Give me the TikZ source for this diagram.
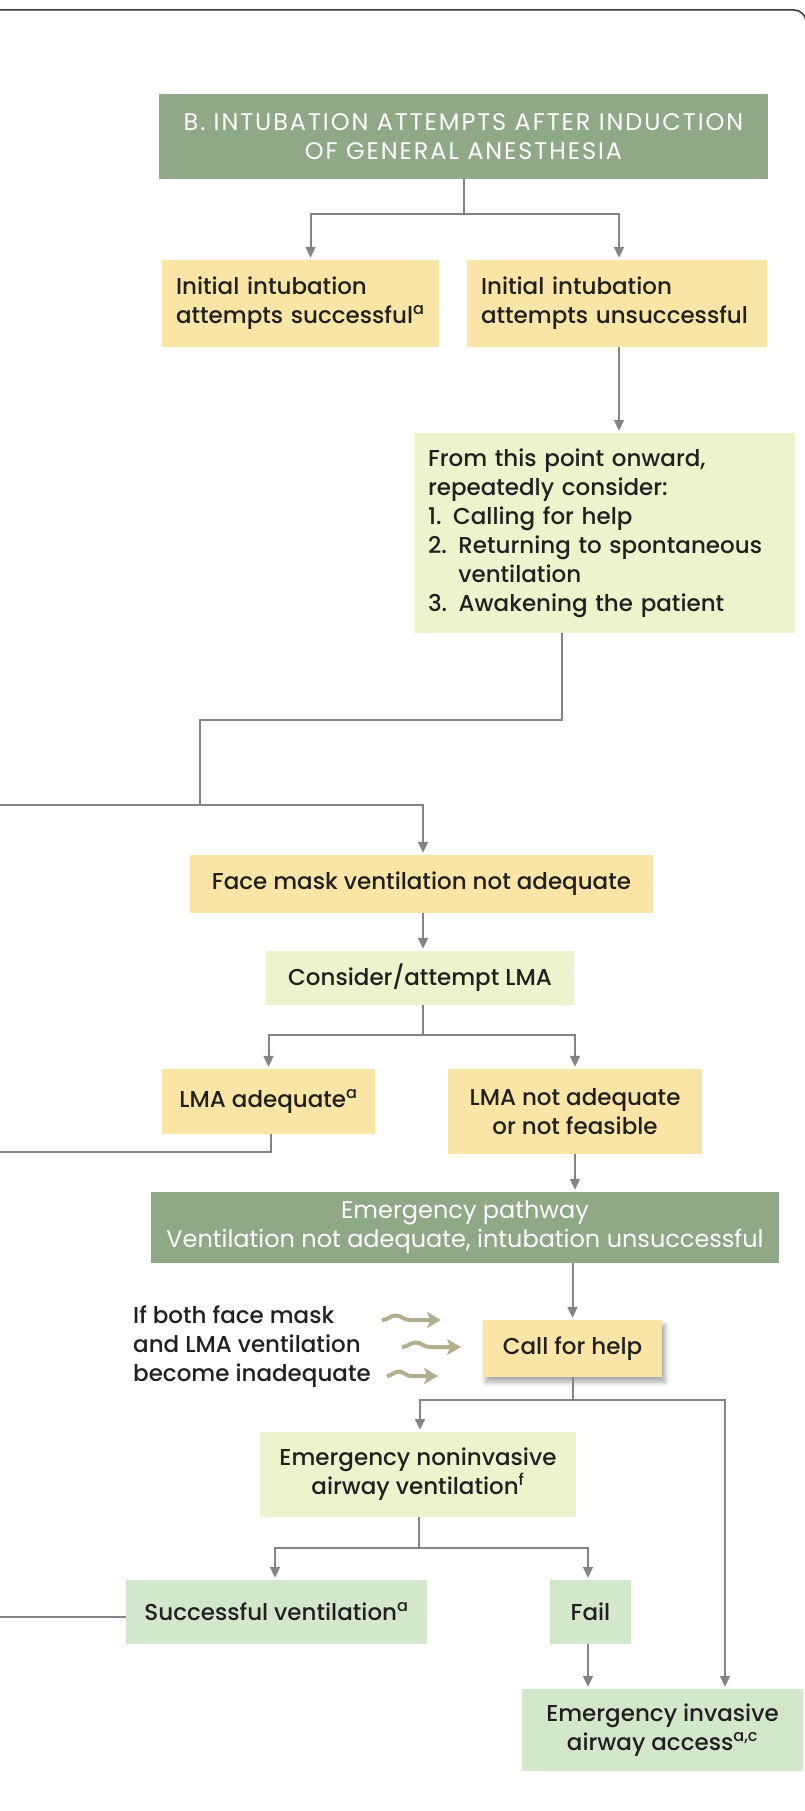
\documentclass[tikz,border=0pt]{standalone}
\usepackage{fontspec}
\setmainfont{Poppins}[UprightFont=* Medium]
\newfontfamily\lightface{Poppins}
\newfontfamily\capsface{Poppins}[LetterSpace=8]
\usetikzlibrary{arrows.meta, positioning, shadows.blur, decorations.pathmorphing}
\definecolor{headgreen}{HTML}{8FA886}
\definecolor{amber}{HTML}{F9E6A7}
\definecolor{lime}{HTML}{EDF3CC}
\definecolor{mint}{HTML}{D3E8CB}
\definecolor{linegrey}{HTML}{848487}
\definecolor{khaki}{HTML}{B3AE8C}
\definecolor{ink}{HTML}{231F20}

\begin{document}
\begin{tikzpicture}[
                x=1pt, y=-1pt,
                >={Triangle[width=10pt,length=11pt]},
                box/.style={
                    inner xsep=14pt,
                    inner ysep=4pt,
                    align=center,
                    text=ink,
                    font=\fontsize{23}{29}\selectfont
                },
                head/.style={box, fill=headgreen, text=white, font=\lightface\fontsize{24}{29}\selectfont},
                warn/.style={box, fill=amber},
                hint/.style={box, fill=lime},
                done/.style={box, fill=mint},
                wire/.style={draw=linegrey, line width=2pt},
                arr/.style={wire, ->, shorten >=2pt},
                squig/.style={
                    draw=khaki, line width=4pt,
                    -{Stealth[length=14pt,width=16pt,inset=3.5pt]},
                    decorate,
                    decoration={snake, amplitude=4.5pt, segment length=44pt, post length=12pt}
                }
            ]
                \useasboundingbox (0,0) rectangle (804,1811);
                % frame of the panel
                \draw[ink!90, line width=1.5pt] (0,10) -- (794,10) arc[start angle=90, end angle=0, radius=12pt];

                \node[head, minimum width=609pt, minimum height=85pt] (title) at (463.5,136.5)
                    {\capsface B. INTUBATION ATTEMPTS AFTER INDUCTION\\\capsface OF GENERAL ANESTHESIA};
                \node[warn, minimum height=87pt, text width=249pt, align=left] (succ) at (300.5,303.5)
                    {Initial intubation\\attempts successful\textsuperscript{a}};
                \node[warn, minimum height=87pt, text width=272pt, align=left] (unsucc) at (617,303.5)
                    {Initial intubation\\attempts unsuccessful};
                \node[hint, minimum height=200pt, text width=353pt, align=left] (consider) at (604.5,533)
                    {From this point onward,\\repeatedly consider:\\1. Calling for help\\2. Returning to spontaneous\\\phantom{2. }ventilation\\3. Awakening the patient};
                \node[warn, minimum width=463pt, minimum height=58pt] (facemask) at (421.5,884)
                    {Face mask ventilation not adequate};
                \node[hint, minimum width=308pt, minimum height=54pt] (lma) at (420,978)
                    {Consider/attempt LMA};
                \node[warn, minimum width=213pt, minimum height=65pt] (lmaok) at (268.5,1101.5)
                    {LMA adequate\textsuperscript{a}};
                \node[warn, minimum width=254pt, minimum height=85pt] (lmano) at (575,1111.5)
                    {LMA not adequate\\or not feasible};
                \node[head, minimum width=628pt, minimum height=71pt] (emerg) at (465,1227.5)
                    {Emergency pathway\\Ventilation not adequate, intubation unsuccessful};
                \node[warn, minimum width=179pt, minimum height=57pt,
                      blur shadow={shadow xshift=3pt, shadow yshift=-5pt, shadow blur radius=5pt, shadow opacity=35}]
                    (callhelp) at (572.5,1348.5) {Call for help};
                \node[box, anchor=west, align=left, inner xsep=0pt] (ifboth) at (133,1347)
                    {If both face mask\\and LMA ventilation\\become inadequate};
                \node[hint, minimum width=316pt, minimum height=85pt] (noninv) at (418,1474.5)
                    {Emergency noninvasive\\airway ventilation\textsuperscript{f}};
                \node[done, minimum width=301pt, minimum height=64pt] (succvent) at (276.5,1612)
                    {Successful ventilation\textsuperscript{a}};
                \node[done, minimum width=81pt, minimum height=64pt] (fail) at (590.5,1612)
                    {Fail};
                \node[done, minimum width=281pt, minimum height=82pt] (invasive) at (662.5,1730)
                    {Emergency invasive\\airway access\textsuperscript{a,c}};

                % lines that come in from / go out to the left panel
                \coordinate (fromA) at (0,805);
                \coordinate (join) at (200,805);
                \coordinate (toA1) at (0,1152);
                \coordinate (toA2) at (0,1617);

                \draw[wire] (title.south) -- ++(0,35) coordinate (fork1);
                \draw[arr] (fork1) -| ([xshift=10pt]succ.north);
                \draw[arr] (fork1) -| ([xshift=2pt]unsucc.north);
                \draw[arr] ([xshift=2pt]unsucc.south) -- ([xshift=2pt]unsucc.south |- consider.north);
                \draw[wire] ([xshift=-43pt]consider.south) -- ++(0,87) -| (join);
                \draw[arr] (fromA) -| ([xshift=1.5pt]facemask.north);
                \draw[arr] ([xshift=1.5pt]facemask.south) -- ([xshift=1.5pt]facemask.south |- lma.north);
                \draw[wire] ([xshift=1.5pt]facemask.south |- lma.south) -- ++(0,30) coordinate (fork2);
                \draw[arr] (fork2) -| (lmaok.north);
                \draw[arr] (fork2) -| (lmano.north);
                \draw[wire] ([xshift=2pt]lmaok.south) |- (toA1);
                \draw[arr] (lmano.south) -- (lmano.south |- emerg.north);
                \draw[arr] (callhelp.north |- emerg.south) -- (callhelp.north);
                \draw[wire] (callhelp.south) -- ++(0,23) coordinate (fork3);
                \draw[arr] (fork3) -| ([xshift=2pt]noninv.north);
                \draw[arr] (fork3) -| ([xshift=62.5pt]invasive.north);
                \draw[wire] ([xshift=1pt]noninv.south) -- ++(0,31) coordinate (fork4);
                \draw[arr] (fork4) -| ([xshift=-1.5pt]succvent.north);
                \draw[arr] (fork4) -| ([xshift=-2.5pt]fail.north);
                \draw[arr] ([xshift=-2.5pt]fail.south) -- ([xshift=-2.5pt]fail.south |- invasive.north);
                \draw[wire] ([yshift=-5pt]succvent.west) -- ([yshift=-5pt]succvent.west -| toA2);

                % wavy pointers towards "Call for help"
                \coordinate (w1a) at (382,1320);
                \coordinate (w1b) at (441,1320);
                \coordinate (w2a) at (402,1347);
                \coordinate (w2b) at (461,1347);
                \coordinate (w3a) at (387,1376);
                \coordinate (w3b) at (438,1376);
                \draw[squig] (w1a) -- (w1b);
                \draw[squig] (w2a) -- (w2b);
                \draw[squig, decoration={segment length=38pt}] (w3a) -- (w3b);
            \end{tikzpicture}
\end{document}
